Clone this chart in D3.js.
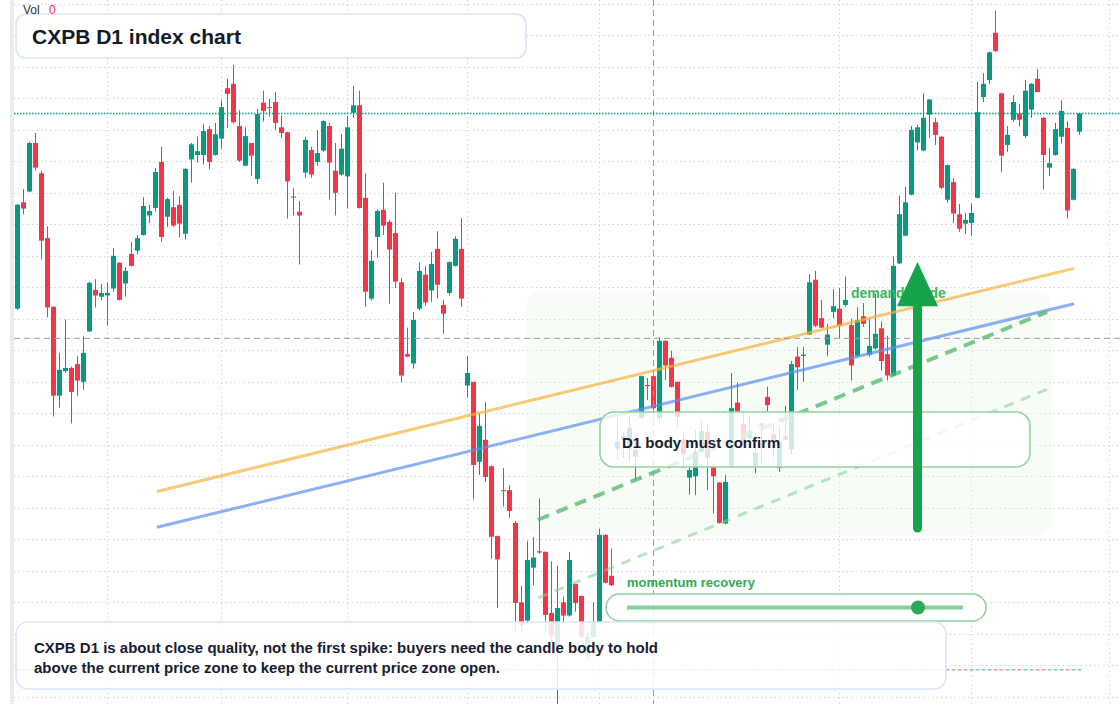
<!DOCTYPE html>
<html><head><meta charset="utf-8">
<script src="https://cdn.jsdelivr.net/npm/d3@7"></script>
<style>html,body{margin:0;padding:0;background:#fff}svg{display:block}</style>
</head><body>
<svg id="chart" width="1120" height="704"></svg>
<script>
const opens = [116.6,133.5,135.2,142.9,138.1,127.8,116.9,102.8,106.7,107.2,
107.8,105.0,113.0,119.6,118.5,118.7,119.8,123.9,120.6,125.3,
125.8,128.3,131.4,132.6,139.9,131.2,132.7,133.1,128.5,140.3,
141.0,141.0,145.1,141.0,143.6,151.6,152.3,145.6,139.3,142.9,
137.2,149.3,148.6,149.4,145.4,144.6,134.4,132.0,138.2,141.8,
139.9,141.7,145.6,138.5,137.9,137.6,147.7,148.9,134.2,118.2,
128.0,132.3,130.4,128.6,120.8,109.4,107.9,116.6,122.0,119.5,
126.1,117.2,119.1,123.4,126.1,104.4,105.0,92.3,95.8,91.6,
80.5,87.8,87.8,82.6,70.0,67.1,75.5,78.1,78.0,68.3,
62.9,70.0,67.9,72.9,71.0,61.6,64.5,66.9,80.7,74.2,
94.4,95.8,94.4,93.1,99.3,104.5,105.9,99.2,111.5,108.8,
105.0,95.9,89.8,90.0,93.9,97.0,91.6,89.0,82.5,91.5,
101.7,98.3,96.0,91.6,98.4,102.6,96.7,91.3,96.4,94.3,
109.0,109.1,112.5,121.2,115.1,110.9,116.1,116.6,117.2,114.0,
109.1,115.4,109.3,110.3,113.5,109.4,106.0,123.8,128.2,134.7,
143.0,141.7,147.4,146.2,143.9,133.9,136.7,131.6,130.1,130.2,
134.2,150.2,152.9,160.4,150.8,142.6,146.6,147.6,144.0,148.2,
153.1,146.9,139.0,141.0,143.9,145.3,133.9,144.7];
const highs = [133.2,135.6,143.1,144.5,138.5,129.7,117.0,109.6,114.9,107.4,
109.1,112.2,120.9,121.3,120.5,120.8,126.2,124.0,123.2,127.2,
128.3,134.3,133.1,138.9,142.3,134.2,135.3,134.5,138.9,142.9,
143.9,145.9,145.6,146.1,149.7,153.1,155.3,148.1,145.4,142.9,
148.3,151.2,149.9,151.0,147.3,144.7,135.8,133.7,143.9,142.3,
144.9,146.5,146.1,142.9,144.3,147.2,152.0,151.2,138.1,125.9,
132.4,136.6,130.7,135.0,121.5,113.6,116.1,123.9,123.4,125.6,
128.9,118.0,124.1,128.1,131.0,109.1,105.0,100.0,101.8,91.7,
80.6,91.3,88.6,82.9,72.6,79.7,80.3,86.5,78.1,76.5,
75.8,70.9,78.0,73.0,71.1,65.1,70.0,81.7,80.8,78.5,
99.5,96.9,99.5,96.6,106.0,105.6,106.4,112.1,111.6,109.9,
105.0,97.1,92.1,97.4,98.7,98.3,92.1,89.1,90.2,106.4,
104.9,100.3,99.5,95.0,98.5,104.2,98.4,97.9,101.2,108.3,
110.5,110.5,122.1,122.6,118.0,114.2,119.7,119.9,121.7,115.0,
116.8,117.5,115.0,119.0,114.6,112.3,124.9,134.6,135.9,145.6,
145.8,150.8,149.9,146.9,144.0,139.5,137.3,133.2,131.8,133.3,
152.6,154.0,157.4,163.9,150.9,145.6,150.5,149.1,152.9,152.4,
154.7,147.0,142.1,146.1,149.7,146.4,138.9,147.7];
const lows = [116.4,131.6,135.1,138.5,124.4,115.2,99.5,100.9,106.4,98.4,
102.8,103.7,112.9,116.8,117.9,113.9,119.3,117.9,118.5,123.3,
125.2,128.2,130.2,132.0,127.2,129.6,129.6,127.9,127.6,136.6,
139.8,139.5,138.7,140.9,142.0,145.3,146.0,139.9,139.2,137.7,
136.4,146.3,147.1,145.0,143.7,130.9,131.4,123.6,137.4,137.4,
139.3,141.5,133.9,131.4,137.7,132.5,146.9,132.5,116.9,117.9,
124.7,128.3,117.4,119.9,104.9,108.9,107.1,116.3,117.1,117.7,
118.2,112.6,118.7,123.3,116.9,102.5,86.3,90.2,89.1,76.9,
69.1,85.2,83.4,65.1,65.1,66.7,72.7,77.7,65.1,63.5,
52.6,66.9,67.7,68.5,64.3,60.8,64.4,66.8,73.0,72.6,
92.6,92.9,92.3,89.4,99.1,102.1,99.3,98.4,105.3,104.1,
97.8,91.3,87.1,87.0,93.8,87.8,84.1,82.5,82.4,91.4,
100.0,95.4,95.9,90.5,92.1,100.3,93.2,90.7,95.6,93.5,
103.7,105.0,112.4,113.7,113.5,109.1,115.1,111.9,116.9,105.2,
108.9,113.7,109.0,110.1,106.8,105.2,105.9,123.7,128.1,134.6,
141.7,141.6,143.7,142.6,135.6,133.4,130.2,128.8,128.5,128.2,
134.1,149.4,152.3,157.3,138.3,141.5,146.3,145.5,143.7,146.9,
150.9,135.5,137.7,140.9,142.8,130.9,133.8,144.2];
const closes = [133.1,132.5,142.9,139.0,127.4,116.8,102.8,106.9,107.2,103.4,
105.2,109.6,120.7,118.7,119.1,119.1,125.0,118.0,122.6,123.4,
127.8,132.9,132.1,138.3,128.0,134.0,129.8,130.1,138.8,142.7,
141.6,144.8,139.9,144.3,148.6,150.7,146.2,140.1,144.0,140.9,
147.5,148.0,148.5,146.1,144.5,136.8,134.3,131.4,143.4,137.9,
141.3,146.4,139.8,135.0,142.0,145.4,148.9,132.6,119.3,124.2,
132.1,129.8,126.0,120.9,106.0,109.0,114.8,122.6,117.6,123.7,
120.4,115.8,124.0,127.7,118.2,106.4,91.8,98.0,89.9,80.4,
76.8,87.7,84.5,69.9,66.4,76.7,77.1,77.9,68.0,64.6,
69.1,67.9,76.7,69.9,64.5,64.5,66.9,80.7,73.1,72.7,
95.5,96.4,97.7,94.2,105.9,104.3,100.8,111.5,107.6,104.2,
99.4,93.5,91.0,93.9,97.2,93.0,90.0,82.6,89.1,100.8,
100.3,95.5,97.1,93.7,98.0,101.3,95.8,95.5,95.8,107.8,
107.3,109.3,120.8,113.9,113.6,112.5,117.0,113.9,118.0,107.6,
114.8,114.2,110.7,112.6,108.3,106.0,123.4,131.6,133.5,145.0,
145.4,146.9,149.8,144.2,135.8,139.4,131.7,129.3,130.7,131.8,
147.8,152.3,157.3,157.5,140.9,144.2,149.4,146.6,151.2,152.3,
151.0,141.0,139.7,145.1,148.0,132.2,138.8,147.6];
const volumes = [0,0,0,0,0,0,0,0,0,0,0,0,0,0,0,0,0,0,0,0,0,0,0,0,0,0,0,0,0,0,
0,0,0,0,0,0,0,0,0,0,0,0,0,0,0,0,0,0,0,0,0,0,0,0,0,0,0,0,0,0,
0,0,0,0,0,0,0,0,0,0,0,0,0,0,0,0,0,0,0,0,0,0,0,0,0,0,0,0,0,0,
0,0,0,0,0,0,0,0,0,0,0,0,0,0,0,0,0,0,0,0,0,0,0,0,0,0,0,0,0,0,
0,0,0,0,0,0,0,0,0,0,0,0,0,0,0,0,0,0,0,0,0,0,0,0,0,0,0,0,0,0,
0,0,0,0,0,0,0,0,0,0,0,0,0,0,0,0,0,0,0,0,0,0,0,0,0,0,0,0];

const gridPrices = [55,60,65,70,75,80,85,90,95,100,105,110,115,120,125,130,135,140,145,150,155,160,165];
const gridIndices = [15,34,55,75,97,137,159,182];
const crosshairIndex = 106;
const crosshairPrice = 111.9;
const trendOrange = [[23.25,87.6],[176.1,123.0]];
const trendBlue = [[23.25,81.9],[176.1,117.4]];
const channelUpper = [[86.75,83.1],[171.6,116.1]];
const channelLower = [[86.75,70.7],[172.1,104.0]];
const demandZone = {i0:84.9, i1:172.4, p0:119.3, p1:80.6};
const arrowPts = {i:150, pFrom:81.8, pBase:117.0, pTip:124.0};

const titleText = "CXPB D1 index chart";
const noteLines = ["CXPB D1 is about close quality, not the first spike: buyers need the candle body to hold",
                   "above the current price zone to keep the current price zone open."];
const confirmText = "D1 body must confirm";
const momentumText = "momentum recovery";
const zoneText = "demand guide";

const W = 1120, H = 704;
const UP = "#089981", DN = "#f23645";
const FONT = "'Liberation Sans', Arial, Helvetica, sans-serif";
const svg = d3.select("#chart");
const x = d3.scaleLinear().domain([0, 183]).range([17.5, 17.5 + 6*183]);
const y = d3.scaleLinear().domain([55, 165]).range([696.8, 3.8]);
const idx = d3.range(opens.length);

svg.append("rect").attr("width", W).attr("height", H).attr("fill", "#fff");
svg.append("rect").attr("x", 10).attr("y", 0).attr("width", 4).attr("height", H).attr("fill", "#ebebeb");

// grid
const grid = svg.append("g");
grid.selectAll("line.h").data(gridPrices).join("line")
  .attr("x1", 14).attr("x2", W).attr("y1", d => Math.round(y(d)) + 0.5).attr("y2", d => Math.round(y(d)) + 0.5)
  .attr("stroke", "#cdd1d8").attr("stroke-width", 1).attr("stroke-dasharray", "1.5 3");
grid.selectAll("line.v").data(gridIndices).join("line")
  .attr("x1", d => x(d)).attr("x2", d => x(d)).attr("y1", 0).attr("y2", H)
  .attr("stroke", "#cdd1d8").attr("stroke-width", 1).attr("stroke-dasharray", "1.5 3");

// demand zone
svg.append("rect")
  .attr("x", x(demandZone.i0)).attr("y", y(demandZone.p0))
  .attr("width", x(demandZone.i1) - x(demandZone.i0)).attr("height", y(demandZone.p1) - y(demandZone.p0))
  .attr("rx", 14).attr("fill", "#e9f7eb").attr("opacity", 0.38);

// volume strip
const vy = d3.scaleLinear().domain([0, 1]).range([670.5, 640]);
svg.append("g").selectAll("rect").data(idx).join("rect")
  .attr("x", i => x(i) - 2).attr("width", 4)
  .attr("y", i => Math.min(vy(volumes[i]), 669)).attr("height", i => Math.max(1.6, vy(0) - vy(volumes[i])))
  .attr("fill", i => closes[i] >= opens[i] ? UP : DN).attr("opacity", 0.5);

// candles
const cg = svg.append("g");
cg.selectAll("line").data(idx).join("line")
  .attr("x1", i => x(i)).attr("x2", i => x(i))
  .attr("y1", i => y(highs[i])).attr("y2", i => y(lows[i]))
  .attr("stroke", i => closes[i] >= opens[i] ? UP : DN).attr("stroke-width", 1);
cg.selectAll("rect").data(idx).join("rect")
  .attr("x", i => x(i) - 2.5).attr("width", 5)
  .attr("y", i => y(Math.max(opens[i], closes[i])))
  .attr("height", i => Math.max(1, Math.abs(y(opens[i]) - y(closes[i]))))
  .attr("fill", i => closes[i] >= opens[i] ? UP : DN);

// trend lines
const line = d3.line().x(d => x(d[0])).y(d => y(d[1]));
svg.append("path").attr("d", line(trendOrange)).attr("fill", "none").attr("stroke", "#f6b23c").attr("stroke-width", 3).attr("opacity", 0.7);
svg.append("path").attr("d", line(trendBlue)).attr("fill", "none").attr("stroke", "#5b8ef0").attr("stroke-width", 3).attr("opacity", 0.7);
svg.append("path").attr("d", line(channelUpper)).attr("fill", "none").attr("stroke", "#4cb86a").attr("stroke-width", 4).attr("stroke-dasharray", "12 8").attr("opacity", 0.75);
svg.append("path").attr("d", line(channelLower)).attr("fill", "none").attr("stroke", "#7fcf92").attr("stroke-width", 3).attr("stroke-dasharray", "10 8").attr("opacity", 0.55);

// crosshair
svg.append("line").attr("x1", 14).attr("x2", W).attr("y1", y(crosshairPrice)).attr("y2", y(crosshairPrice))
  .attr("stroke", "#9a9a9a").attr("stroke-width", 1).attr("stroke-dasharray", "6 4");
svg.append("line").attr("x1", x(crosshairIndex)).attr("x2", x(crosshairIndex)).attr("y1", 0).attr("y2", H)
  .attr("stroke", "#9a9a9a").attr("stroke-width", 1).attr("stroke-dasharray", "6 4");

// last price line
const lastY = Math.round(y(closes[closes.length - 1])) + 0.5;
svg.append("line").attr("x1", 14).attr("x2", W).attr("y1", lastY).attr("y2", lastY)
  .attr("stroke", UP).attr("stroke-width", 1.3).attr("stroke-dasharray", "1.5 1.5");

// zone label
svg.append("text").attr("x", 851).attr("y", 298).text(zoneText)
  .attr("font-family", FONT).attr("font-weight", "bold").attr("font-size", 14).attr("fill", "#3fb563");

// confirm box
svg.append("rect").attr("x", 600).attr("y", 412).attr("width", 430).attr("height", 55).attr("rx", 14)
  .attr("fill", "#fff").attr("fill-opacity", 0.8).attr("stroke", "#92d3a1").attr("stroke-width", 1.6);
svg.append("text").attr("x", 622).attr("y", 447.5).text(confirmText)
  .attr("font-family", FONT).attr("font-weight", "bold").attr("font-size", 15).attr("fill", "#172030");

// arrow
const ax = x(arrowPts.i);
svg.append("line").attr("x1", ax).attr("x2", ax).attr("y1", y(arrowPts.pFrom)).attr("y2", y(arrowPts.pBase) + 2)
  .attr("stroke", "#16a34a").attr("stroke-width", 9).attr("stroke-linecap", "round");
svg.append("path")
  .attr("d", `M${ax},${y(arrowPts.pTip)} L${ax + 20.5},${y(arrowPts.pBase)} L${ax - 20.5},${y(arrowPts.pBase)} Z`)
  .attr("fill", "#16a34a");

// momentum
svg.append("text").attr("x", 627).attr("y", 587).text(momentumText)
  .attr("font-family", FONT).attr("font-weight", "bold").attr("font-size", 13).attr("fill", "#2fab57");
svg.append("rect").attr("x", 606).attr("y", 594).attr("width", 380).attr("height", 27).attr("rx", 13.5)
  .attr("fill", "#fff").attr("fill-opacity", 0.9).attr("stroke", "#8fd2a0").attr("stroke-width", 1.6);
svg.append("line").attr("x1", 627).attr("x2", 963).attr("y1", 607.5).attr("y2", 607.5)
  .attr("stroke", "#86d09a").attr("stroke-width", 4);
svg.append("circle").attr("cx", 918).attr("cy", 607.5).attr("r", 7).attr("fill", "#2ea85a");

// note box
svg.append("rect").attr("x", 16).attr("y", 622).attr("width", 930).attr("height", 67).attr("rx", 12)
  .attr("fill", "#fff").attr("fill-opacity", 0.86).attr("stroke", "#d9e5f8").attr("stroke-width", 1.6);
svg.append("g").selectAll("text").data(noteLines).join("text")
  .attr("x", 34).attr("y", (d, i) => 652.5 + i * 20).text(d => d)
  .attr("font-family", FONT).attr("font-weight", "bold").attr("font-size", 15).attr("fill", "#172030");

// title
svg.append("rect").attr("x", 16).attr("y", 14).attr("width", 510).attr("height", 44).attr("rx", 10)
  .attr("fill", "#fff").attr("stroke", "#d9e5f8").attr("stroke-width", 1.6);
svg.append("text").attr("x", 32).attr("y", 43.5).text(titleText)
  .attr("font-family", FONT).attr("font-weight", "bold").attr("font-size", 21).attr("fill", "#131a28");

// vol label
svg.append("text").attr("x", 23).attr("y", 13.5).text("Vol")
  .attr("font-family", FONT).attr("font-size", 12).attr("fill", "#333");
svg.append("text").attr("x", 49).attr("y", 13.5).text(d3.sum(volumes))
  .attr("font-family", FONT).attr("font-size", 12).attr("fill", DN);
</script>
</body></html>
